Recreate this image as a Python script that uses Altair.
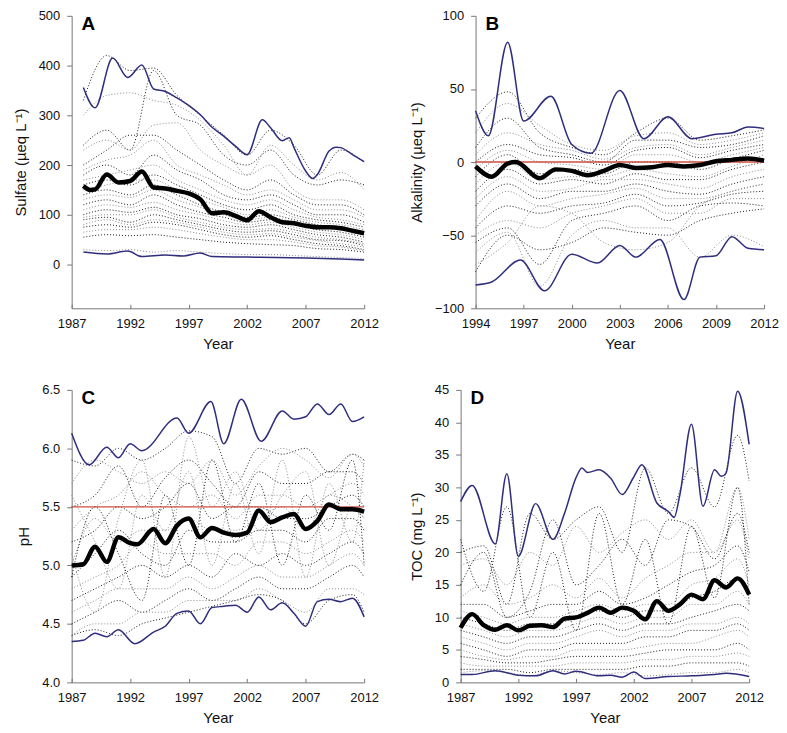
import altair as alt
import pandas as pd

# ---------------- Panel A: Sulfate ----------------
YA = [1988, 1990, 1992, 1994, 1996, 1998, 2000, 2002, 2004, 2006, 2008, 2010, 2012]
A_SITES = [
    [330, 420, 390, 395, 340, 300, 260, 220, 270, 240, 180, 230, 205],
    [300, 340, 345, 330, 320, 290, 240, 180, 240, 200, 170, 185, 150],
    [240, 270, 230, 390, 300, 280, 220, 200, 230, 180, 160, 170, 160],
    [230, 250, 230, 280, 285, 230, 200, 180, 200, 150, 130, 130, 110],
    [200, 230, 260, 260, 230, 200, 170, 150, 170, 140, 120, 120, 100],
    [190, 210, 220, 250, 200, 180, 160, 140, 150, 130, 110, 110, 95],
    [180, 200, 180, 220, 190, 170, 140, 130, 140, 120, 100, 100, 85],
    [170, 180, 190, 200, 170, 150, 130, 120, 130, 110, 95, 90, 80],
    [160, 170, 160, 180, 160, 140, 120, 110, 120, 100, 90, 85, 75],
    [150, 160, 170, 170, 150, 130, 115, 100, 110, 95, 85, 80, 70],
    [140, 150, 140, 160, 140, 120, 105, 95, 100, 90, 80, 75, 65],
    [130, 140, 135, 150, 130, 115, 100, 90, 95, 85, 75, 70, 60],
    [120, 130, 120, 140, 120, 105, 95, 85, 90, 80, 70, 65, 55],
    [110, 120, 115, 125, 110, 100, 88, 80, 85, 75, 65, 60, 50],
    [100, 110, 105, 115, 100, 92, 80, 75, 80, 70, 60, 55, 45],
    [95, 100, 100, 110, 95, 85, 75, 70, 72, 65, 55, 50, 42],
    [90, 95, 85, 100, 90, 80, 70, 65, 68, 60, 50, 48, 38],
    [80, 90, 80, 90, 85, 75, 65, 60, 62, 55, 48, 42, 35],
    [75, 80, 75, 85, 80, 70, 60, 55, 58, 50, 42, 38, 30],
    [65, 70, 70, 75, 70, 62, 55, 50, 50, 45, 38, 35, 28],
    [55, 60, 58, 60, 55, 50, 45, 42, 40, 38, 32, 30, 25],
    [30, 28, 30, 25, 28, 25, 22, 20, 20, 18, 16, 14, 12],
]
A_MAX_YEAR = [1988, 1989, 1990.5, 1991.8, 1993, 1994, 1995, 1996, 1997, 1998, 1999, 2000, 2001, 2002,
              2003.3, 2004, 2005, 2005.6, 2006, 2007, 2007.6, 2008, 2009, 2009.6, 2010, 2011, 2012]
A_MAX = [356, 315, 415, 376, 401, 353, 348, 335, 320, 301, 276, 258, 238, 221,
         291, 275, 249, 255, 235, 188, 173, 181, 228, 236, 235, 221, 207]
A_MIN_YEAR = [1988, 1990, 1991.8, 1993, 1995, 1996.5, 1998, 1999, 2002, 2007, 2010, 2012]
A_MIN = [25, 21, 27, 16, 19, 17, 23, 16, 15, 13, 11, 9]
A_MEAN_YEAR = [1988, 1988.6, 1989, 1990, 1991, 1992, 1993, 1994, 1995, 1996, 1997, 1998, 1999, 2000,
               2001, 2002, 2003, 2004, 2005, 2006, 2007, 2008, 2009, 2010, 2011, 2012]
A_MEAN = [158, 150, 151, 181, 165, 168, 187, 155, 153, 148, 143, 131, 103, 105,
          98, 89, 107, 95, 85, 83, 78, 75, 75, 73, 68, 63]

# ---------------- Panel B: Alkalinity ----------------
YB = [1994, 1996, 1998, 2000, 2002, 2004, 2006, 2008, 2010, 2012]
B_SITES = [
    [30, 48, 20, 10, 5, 20, 30, 15, 18, 22],
    [20, 40, 25, 12, 8, 18, 20, 12, 15, 20],
    [10, 30, 10, 5, 0, 15, 15, 10, 12, 18],
    [5, 20, 12, 8, 2, 10, 12, 5, 10, 15],
    [0, 12, 5, 3, -2, 8, 10, 3, 8, 12],
    [-5, 8, 0, -2, -5, 5, 5, 0, 5, 10],
    [-10, 5, -8, -5, -8, 0, 0, -5, 2, 8],
    [-15, 0, -12, -10, -10, -5, -8, -10, -3, 5],
    [-20, -5, -15, -12, -15, -8, -12, -12, -5, 0],
    [-25, -10, -20, -18, -12, -12, -15, -18, -10, -5],
    [-30, -15, -25, -20, -20, -15, -20, -22, -15, -10],
    [-40, -20, -30, -25, -22, -18, -25, -25, -20, -15],
    [-45, -30, -35, -30, -28, -22, -30, -28, -22, -20],
    [-50, -40, -45, -35, -30, -25, -35, -35, -25, -25],
    [-55, -45, -70, -40, -35, -30, -40, -30, -28, -30],
    [-62, -48, -85, -50, -40, -45, -45, -65, -50, -58],
    [-75, -50, -60, -55, -45, -48, -50, -40, -35, -32],
    [-70, -55, -30, -35, -55, -60, -55, -30, -20, -15],
]
B_MAX_YEAR = [1994, 1994.8, 1996, 1997, 1998.7, 2000, 2001.2, 2003, 2004.5, 2006, 2007.5, 2009, 2010, 2011, 2012]
B_MAX = [35, 18, 82, 28, 45, 12, 6, 49, 16, 31, 16, 19, 20, 24, 23]
B_MIN_YEAR = [1994, 1995, 1996.8, 1998.3, 2000, 2001.6, 2003, 2004, 2005.5, 2007, 2008, 2009, 2010, 2011, 2012]
B_MIN = [-84, -82, -67, -88, -63, -69, -57, -65, -53, -94, -65, -64, -51, -59, -60]
B_MEAN_YEAR = [1994, 1995, 1996, 1996.5, 1998, 1999, 2000, 2001, 2002, 2003, 2004, 2005, 2006, 2007,
               2008, 2009, 2010, 2011, 2012]
B_MEAN = [-3, -10, -1, 0, -11, -5, -6, -9, -6, -2, -4, -3.5, -2, -3, -2, 0.5, 1.5, 2.5, 1]

# ---------------- Panel C: pH ----------------
YC = [1987, 1989, 1991, 1993, 1995, 1997, 1999, 2001, 2003, 2005, 2007, 2009, 2011, 2012]
C_SITES = [
    [5.9, 5.85, 6.0, 5.9, 6.0, 6.15, 6.1, 5.7, 6.0, 5.95, 6.0, 5.8, 5.95, 5.9],
    [5.7, 5.9, 5.8, 5.7, 5.8, 5.7, 5.9, 5.6, 5.85, 6.0, 5.9, 5.75, 5.95, 5.85],
    [5.5, 5.6, 5.85, 5.5, 5.75, 5.9, 5.7, 5.5, 5.8, 5.7, 5.7, 5.8, 5.8, 5.7],
    [5.3, 5.5, 5.6, 5.8, 5.6, 5.5, 5.6, 5.4, 5.6, 5.6, 5.5, 5.6, 5.7, 5.6],
    [5.2, 5.3, 5.5, 5.4, 5.5, 5.7, 5.4, 5.5, 5.5, 5.4, 5.4, 5.5, 5.6, 5.5],
    [5.0, 5.4, 5.2, 5.3, 5.3, 5.4, 5.3, 5.3, 5.4, 5.5, 5.3, 5.6, 5.5, 5.4],
    [4.9, 5.1, 5.3, 5.1, 5.0, 5.3, 5.2, 5.2, 5.3, 5.3, 5.2, 5.4, 5.4, 5.3],
    [4.8, 4.9, 5.0, 5.2, 5.1, 5.1, 5.1, 5.0, 5.2, 5.2, 5.1, 5.2, 5.3, 5.2],
    [4.7, 4.8, 4.9, 5.0, 4.9, 5.0, 4.9, 5.1, 5.0, 5.1, 5.0, 5.1, 5.2, 5.1],
    [4.6, 4.7, 4.8, 4.8, 4.8, 4.9, 4.8, 4.9, 5.0, 4.9, 4.9, 5.0, 5.1, 5.0],
    [4.5, 4.6, 4.7, 4.6, 4.7, 4.8, 4.7, 4.8, 4.9, 4.8, 4.8, 4.9, 5.0, 4.9],
    [4.4, 4.5, 4.5, 4.6, 4.6, 4.7, 4.7, 4.7, 4.8, 4.7, 4.6, 4.8, 4.8, 4.75],
    [4.4, 4.45, 4.4, 4.5, 4.55, 4.6, 4.65, 4.7, 4.75, 4.7, 4.5, 4.7, 4.75, 4.6],
    [5.6, 5.2, 4.8, 5.6, 5.3, 5.8, 5.0, 5.7, 5.1, 5.9, 4.9, 5.7, 5.2, 5.9],
    [4.9, 5.5, 5.1, 4.7, 5.6, 5.0, 5.9, 5.2, 5.7, 5.0, 5.6, 5.3, 5.9, 5.0],
    [5.1, 4.6, 5.4, 5.9, 4.9, 6.1, 5.5, 5.8, 5.3, 5.6, 5.8, 5.0, 5.5, 5.4],
]
C_MAX_YEAR = [1987, 1988.5, 1990, 1991, 1992, 1993, 1996, 1997, 1998.9, 2000, 2001.5, 2003.2,
              2005, 2006, 2007, 2008, 2009, 2010, 2011, 2012]
C_MAX = [6.13, 5.86, 6.01, 5.92, 6.04, 5.98, 6.26, 6.13, 6.40, 6.04, 6.42, 6.06,
         6.32, 6.25, 6.27, 6.38, 6.29, 6.38, 6.23, 6.27]
C_MIN_YEAR = [1987, 1988, 1989, 1990, 1991, 1992.4, 1994, 1995, 1996, 1997, 1998, 1999, 2000,
              2001, 2002, 2003, 2004, 2005, 2006, 2007, 2008, 2009, 2010, 2011, 2012]
C_MIN = [4.35, 4.36, 4.42, 4.39, 4.45, 4.33, 4.43, 4.48, 4.59, 4.61, 4.50, 4.64, 4.65,
         4.66, 4.60, 4.73, 4.62, 4.68, 4.59, 4.48, 4.69, 4.71, 4.69, 4.72, 4.56]
C_MEAN_YEAR = [1987, 1988, 1989, 1990, 1991, 1992, 1992.6, 1994, 1995, 1996, 1997, 1998, 1999, 2000,
               2001, 2002, 2003, 2004, 2005, 2006, 2007, 2008, 2009, 2010, 2011, 2012]
C_MEAN = [5.00, 5.01, 5.16, 5.03, 5.24, 5.19, 5.18, 5.31, 5.19, 5.34, 5.40, 5.24, 5.32, 5.28,
          5.26, 5.28, 5.47, 5.37, 5.41, 5.44, 5.31, 5.38, 5.52, 5.48, 5.48, 5.46]

# ---------------- Panel D: TOC ----------------
YD = [1987, 1989, 1991, 1993, 1995, 1997, 1999, 2001, 2003, 2005, 2007, 2009, 2011, 2012]
D_SITES = [
    [20, 21, 12, 26, 22, 25, 27, 20, 33, 26, 33, 27, 38, 31],
    [18, 19, 15, 20, 18, 24, 20, 23, 25, 22, 25, 20, 30, 22],
    [15, 20, 10, 14, 25, 15, 18, 22, 18, 25, 24, 19, 26, 20],
    [13, 15, 12, 13, 15, 13, 16, 13, 16, 18, 20, 20, 25, 19],
    [12, 12, 10, 11, 12, 12, 14, 12, 13, 15, 17, 18, 21, 17],
    [11, 10, 9, 10, 10, 11, 12, 11, 12, 12, 15, 16, 19, 15],
    [10, 9, 8, 9, 9, 10, 11, 10, 11, 11, 13, 14, 16, 14],
    [9, 8, 7, 8, 8, 9, 10, 9, 10, 10, 12, 12, 14, 12],
    [8, 7, 6, 7, 7, 8, 9, 8, 9, 9, 10, 11, 12, 11],
    [7, 6, 5, 6, 6, 7, 8, 7, 8, 8, 9, 9, 10, 9],
    [6, 5, 4, 5, 5, 6, 6, 6, 7, 7, 8, 8, 9, 8],
    [5, 4, 3.5, 4, 4, 5, 5, 5, 5.5, 6, 6, 7, 8, 7],
    [4, 3.5, 3, 3, 3.5, 4, 4, 4, 4.5, 5, 5, 5, 6, 5],
    [3, 2.5, 2.5, 2.5, 2.5, 3, 3, 3, 3.5, 3.5, 4, 4, 4.5, 4],
    [2, 2, 2, 1.5, 2, 2, 2, 2, 2.5, 2.5, 3, 3, 3, 2.5],
    [1.5, 1.8, 1.5, 1, 1.8, 1.5, 1.2, 1.5, 1, 1.2, 1.5, 1.5, 2, 1.5],
    [22, 14, 27, 10, 20, 8, 26, 12, 22, 9, 24, 13, 30, 12],
]
D_MAX_YEAR = [1987, 1988, 1990, 1991, 1992, 1993.5, 1995, 1996, 1997, 1997.5, 1998, 1999, 2000, 2001,
              2002, 2002.7, 2004, 2005, 2005.5, 2006, 2007, 2008, 2009, 2009.6, 2010, 2011, 2012]
D_MAX = [27.8, 30.3, 21.3, 32.1, 19.4, 27.5, 22.0, 26.0, 31.5, 33.0, 32.3, 32.7, 31.4, 28.9,
         31.6, 33.5, 27.6, 26.3, 25.4, 28.9, 39.7, 27.1, 32.7, 31.7, 32.2, 44.8, 36.6]
D_MIN_YEAR = [1987, 1988, 1990, 1992, 1993.5, 1995, 1996, 1997, 1999, 2000, 2001, 2002, 2003,
              2005, 2007, 2009, 2010, 2012]
D_MIN = [1.2, 1.2, 1.8, 1.1, 1.0, 1.8, 1.3, 1.7, 1.0, 1.1, 0.8, 1.6, 0.6, 0.9, 1.0, 1.2, 1.4, 0.9]
D_MEAN_YEAR = [1987, 1988, 1989, 1990, 1991, 1992, 1993, 1994, 1995, 1996, 1997, 1998, 1999, 2000,
               2001, 2002, 2003, 2004, 2005, 2006, 2007, 2008, 2009, 2010, 2011, 2012]
D_MEAN = [8.4, 10.5, 8.8, 8.1, 8.8, 8.0, 8.7, 8.8, 8.5, 9.8, 10.0, 10.7, 11.5, 10.7,
          11.5, 11.0, 9.7, 12.5, 11.0, 12.0, 13.5, 12.8, 15.7, 14.6, 16.0, 13.5]

FONT = "Liberation Sans"
BLUE = "#2f2e7d"
RED = "#cc4f3f"
H = 294


def sites_df(years, sites):
    rows = []
    for i, s in enumerate(sites):
        tone = "k" if i % 2 == 0 else "g"
        for y, v in zip(years, s):
            rows.append({"year": y, "value": v, "site": i, "tone": tone})
    return pd.DataFrame(rows)


def line_df(years, vals):
    return pd.DataFrame({"year": years, "value": vals})


def panel(years, sites, mx, mn, mean, xdom, xvals, ydom, yvals, ytitle, letter, width, ref=None):
    xs = alt.Scale(domain=xdom, nice=False, zero=False)
    ys = alt.Scale(domain=ydom, nice=False, zero=False)
    xax = alt.Axis(values=xvals, format="d", title="Year", grid=False, ticks=False,
                   labelPadding=9, titlePadding=6, orient="bottom", labelFlush=False)
    # inward-pointing ticks: a top axis shifted down onto the bottom edge
    xax_in = alt.Axis(values=xvals, orient="top", offset=-H, labels=False, domain=False,
                      title=None, grid=False, tickSize=4)
    yax = alt.Axis(values=yvals, title=ytitle, grid=False, tickSize=5, labelPadding=7,
                   titlePadding=10, labelFlush=False,
                   format="d" if ydom[1] > 10 else ".1f")
    Xmain = alt.X("year:Q", scale=xs, axis=xax)
    Xnone = alt.X("year:Q", scale=xs, axis=None)
    Y = alt.Y("value:Q", scale=ys, axis=yax)

    dots = alt.Chart(sites_df(years, sites)).mark_line(
        strokeWidth=1, strokeDash=[1, 2], interpolate="monotone"
    ).encode(
        x=Xmain, y=Y, detail="site:N",
        color=alt.Color("tone:N", scale=alt.Scale(domain=["k", "g"], range=["#1a1a1a", "#8a8a8a"]),
                        legend=None),
    )
    layers = [dots]
    if ref is not None:
        layers.append(alt.Chart(pd.DataFrame({"ref": [ref]})).mark_rule(
            color=RED, strokeWidth=1.5).encode(y=alt.Y("ref:Q", scale=ys, axis=yax)))
    for d in (mx, mn):
        layers.append(alt.Chart(line_df(*d)).mark_line(
            color=BLUE, strokeWidth=1.5, interpolate="monotone").encode(x=Xnone, y=Y))
    layers.append(alt.Chart(line_df(*mean)).mark_line(
        color="black", strokeWidth=4.5, interpolate="monotone").encode(
        x=alt.X("year:Q", scale=xs, axis=xax_in), y=Y))
    layers.append(alt.Chart(pd.DataFrame({"t": [letter]})).mark_text(
        font=FONT, fontSize=19, fontWeight="bold", align="left", baseline="top", color="black"
    ).encode(x=alt.value(10), y=alt.value(-1), text="t:N"))
    return alt.layer(*layers).resolve_axis(x="independent").properties(width=width, height=H)


pA = panel(YA, A_SITES, (A_MAX_YEAR, A_MAX), (A_MIN_YEAR, A_MIN), (A_MEAN_YEAR, A_MEAN),
           [1987, 2012], [1987, 1992, 1997, 2002, 2007, 2012], [-88, 500],
           [0, 100, 200, 300, 400, 500], "Sulfate (µeq L⁻¹)", "A", 294)
pB = panel(YB, B_SITES, (B_MAX_YEAR, B_MAX), (B_MIN_YEAR, B_MIN), (B_MEAN_YEAR, B_MEAN),
           [1994, 2012], [1994, 1997, 2000, 2003, 2006, 2009, 2012], [-100, 100],
           [-100, -50, 0, 50, 100], "Alkalinity (µeq L⁻¹)", "B", 290, ref=0)
pC = panel(YC, C_SITES, (C_MAX_YEAR, C_MAX), (C_MIN_YEAR, C_MIN), (C_MEAN_YEAR, C_MEAN),
           [1987, 2012], [1987, 1992, 1997, 2002, 2007, 2012], [4.0, 6.5],
           [4.0, 4.5, 5.0, 5.5, 6.0, 6.5], "pH", "C", 294, ref=5.5)
pD = panel(YD, D_SITES, (D_MAX_YEAR, D_MAX), (D_MIN_YEAR, D_MIN), (D_MEAN_YEAR, D_MEAN),
           [1987, 2012], [1987, 1992, 1997, 2002, 2007, 2012], [0, 45],
           [0, 5, 10, 15, 20, 25, 30, 35, 40, 45], "TOC (mg L⁻¹)", "D", 290)

chart = alt.vconcat(
    alt.hconcat(pA, pB, spacing=30),
    alt.hconcat(pC, pD, spacing=30),
    spacing=33,
    background="white",
    padding={"left": 5, "top": 0, "right": 0, "bottom": 0},
).configure_view(stroke=None).configure_axis(
    labelFont=FONT, titleFont=FONT, labelFontSize=13, titleFontSize=15,
    titleFontWeight="normal", labelColor="#111", titleColor="#111",
    domainColor="#777", tickColor="#777",
)

chart.save("out.html", embed_options={"renderer": "svg", "actions": False})
